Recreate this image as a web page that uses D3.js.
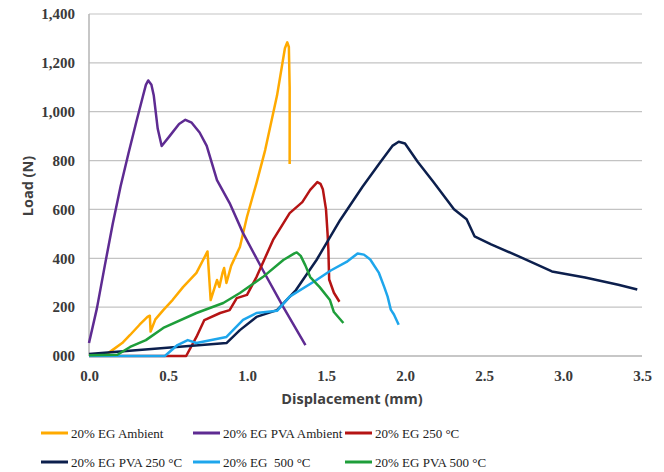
<!DOCTYPE html>
<html>
<head>
<meta charset="utf-8">
<script src="https://cdn.jsdelivr.net/npm/d3@7"></script>
<style>
  body { margin: 0; background: #fff; }
  svg { display: block; }
</style>
</head>
<body>
<svg width="664" height="472"></svg>
<script>
// displacement (mm), load (N) pairs
var egAmbient = [[0.095,0],[0.15,25],[0.21,53],[0.26,86],[0.32,128],[0.37,160],[0.385,165],[0.39,100],[0.42,150],[0.47,188],[0.53,230],[0.595,282],[0.68,340],[0.75,428],[0.77,229],[0.79,270],[0.81,311],[0.825,283],[0.845,340],[0.855,360],[0.87,299],[0.9,370],[0.955,446],[1.0,570],[1.06,708],[1.115,843],[1.19,1066],[1.24,1260],[1.255,1284],[1.265,1265],[1.27,1100],[1.27,786]];
var pvaAmbient = [[0,53],[0.05,195],[0.1,370],[0.15,540],[0.2,695],[0.25,830],[0.3,960],[0.34,1060],[0.36,1110],[0.375,1128],[0.395,1110],[0.41,1066],[0.435,930],[0.46,860],[0.51,900],[0.57,950],[0.61,967],[0.65,955],[0.70,915],[0.745,860],[0.81,720],[0.89,626],[0.975,503],[1.1,352],[1.23,200],[1.37,45]];
var eg250 = [[0,0],[0.615,0],[0.68,78],[0.73,147],[0.83,176],[0.89,188],[0.935,237],[1.0,250],[1.06,323],[1.165,475],[1.27,585],[1.35,630],[1.40,680],[1.445,712],[1.465,705],[1.48,683],[1.50,600],[1.51,500],[1.515,436],[1.52,313],[1.55,259],[1.585,222]];
var pva250 = [[0,8],[0.87,53],[0.955,106],[1.06,160],[1.19,188],[1.31,270],[1.44,393],[1.59,557],[1.73,692],[1.84,790],[1.92,860],[1.96,877],[2.0,870],[2.08,795],[2.18,712],[2.31,601],[2.39,560],[2.44,490],[2.545,457],[2.72,408],[2.93,346],[3.14,321],[3.35,292],[3.47,272]];
var eg500 = [[0,0],[0.48,0],[0.56,45],[0.625,65],[0.68,53],[0.87,78],[0.975,148],[1.06,176],[1.19,185],[1.27,243],[1.44,311],[1.53,350],[1.63,385],[1.70,420],[1.74,415],[1.78,395],[1.835,340],[1.87,280],[1.89,243],[1.91,190],[1.93,170],[1.96,128]];
var pva500 = [[0,3],[0.18,5],[0.26,37],[0.36,65],[0.47,115],[0.68,176],[0.85,217],[0.955,258],[1.10,323],[1.23,393],[1.30,420],[1.315,424],[1.34,410],[1.37,370],[1.40,323],[1.46,282],[1.525,229],[1.55,180],[1.61,135]];

var seriesNames = ['20% EG Ambient', '20% EG PVA Ambient', '20% EG 250 °C', '20% EG PVA 250 °C', '20% EG  500 °C', '20% EG PVA 500 °C'];
var seriesData = [egAmbient, pvaAmbient, eg250, pva250, eg500, pva500];
var seriesColors = ['#FFAA00', '#5E2B92', '#B51414', '#0C1F4D', '#1EA6EC', '#1E9E3A'];

var xTicks = [0, 0.5, 1.0, 1.5, 2.0, 2.5, 3.0, 3.5];
var yTicks = [0, 200, 400, 600, 800, 1000, 1200, 1400];

var svg = d3.select('svg');
var plotLeft = 89, plotRight = 642, plotTop = 14, plotBottom = 356;

var x = d3.scaleLinear().domain([0, 3.5]).range([plotLeft, plotRight]);
var y = d3.scaleLinear().domain([0, 1400]).range([plotBottom, plotTop]);

// gridlines
svg.append('g').selectAll('line').data(yTicks.slice(1)).enter().append('line')
    .attr('x1', plotLeft).attr('x2', plotRight)
    .attr('y1', d => y(d)).attr('y2', d => y(d))
    .attr('stroke', '#C3C3C3').attr('stroke-width', 1.2);

// axis lines
svg.append('line').attr('x1', plotLeft).attr('x2', plotRight).attr('y1', plotBottom).attr('y2', plotBottom)
    .attr('stroke', '#B5B5B5').attr('stroke-width', 1.5);
svg.append('line').attr('x1', plotLeft).attr('x2', plotLeft).attr('y1', plotTop).attr('y2', plotBottom)
    .attr('stroke', '#B5B5B5').attr('stroke-width', 1.5);

// tick labels via d3 axes
var yAxis = d3.axisLeft(y).tickValues(yTicks).tickSize(0).tickPadding(14)
    .tickFormat(d => d === 0 ? '000' : d3.format(',')(d));
var gy = svg.append('g').attr('transform', 'translate(' + plotLeft + ',0)').call(yAxis);
gy.select('.domain').remove();

var xAxis = d3.axisBottom(x).tickValues(xTicks).tickSize(0).tickPadding(14)
    .tickFormat(d3.format('.1f'));
var gx = svg.append('g').attr('transform', 'translate(0,' + plotBottom + ')').call(xAxis);
gx.select('.domain').remove();

svg.selectAll('.tick text')
    .attr('font-family', '"Liberation Serif", "Times New Roman", serif')
    .attr('font-weight', 'bold')
    .attr('font-size', 15)
    .attr('fill', '#3a3a3a');

// axis titles
svg.append('text').attr('x', 352).attr('y', 404).attr('text-anchor', 'middle')
    .attr('font-family', '"Open Sans", sans-serif').attr('font-weight', 'bold').attr('font-size', 14.5)
    .attr('fill', '#404040').text('Displacement (mm)');
svg.append('text').attr('transform', 'translate(33,186) rotate(-90)').attr('text-anchor', 'middle')
    .attr('font-family', '"Open Sans", sans-serif').attr('font-weight', 'bold').attr('font-size', 14.5)
    .attr('fill', '#404040').text('Load (N)');

// curves
var line = d3.line().x(d => x(d[0])).y(d => y(d[1]));
svg.append('g').selectAll('path').data(seriesData).enter().append('path')
    .attr('d', line)
    .attr('fill', 'none')
    .attr('stroke', (d, i) => seriesColors[i])
    .attr('stroke-width', 2.5)
    .attr('stroke-linejoin', 'round');

// legend
var legX = [41, 193, 345], legY = [433, 462];
var leg = svg.append('g').selectAll('g').data(seriesNames).enter().append('g')
    .attr('transform', (d, i) => 'translate(' + legX[i % 3] + ',' + legY[Math.floor(i / 3)] + ')');
leg.append('line').attr('x1', 0).attr('x2', 27).attr('y1', 0).attr('y2', 0)
    .attr('stroke', (d, i) => seriesColors[i]).attr('stroke-width', 3);
leg.append('text').attr('x', 30).attr('y', 5)
    .attr('font-family', '"Liberation Serif", "Times New Roman", serif').attr('font-size', 13)
    .attr('fill', '#222').style('white-space', 'pre').text(d => d);
</script>
</body>
</html>
